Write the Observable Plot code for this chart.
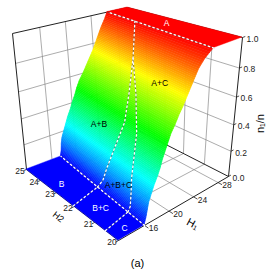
<!DOCTYPE html>
<html><head><meta charset="utf-8">
<style>html,body{margin:0;padding:0;background:#fff}svg{display:block}</style>
<script src="https://cdn.jsdelivr.net/npm/d3@7"></script>
<script src="https://cdn.jsdelivr.net/npm/@observablehq/plot@0.6"></script>
</head><body><div id="c"></div>
<script>
// ---- values ----
const nLevels   = [0,.05,.1,.15,.2,.25,.3,.35,.4,.45,.5,.55,.6,.65,.7,.75,.8,.85,.9,.95,1];
const edgeH1At20 = [16,16.3,16.5,16.7,17.1,17.5,18,18.4,18.7,19.1,19.5,19.9,20.5,21,21.6,22.1,22.6,23.1,23.6,24.4,25.6];
const edgeH1At25 = [17.5,17.7,17.8,18,18.4,18.8,19.2,19.7,20.1,20.6,21,21.5,22.2,22.8,23.4,24,24.5,25,25.5,26.1,26.6];
const H1Ticks = [16,20,24,28];
const H2Ticks = [20,21,22,23,24,25];
const nTicks  = [0,.2,.4,.6,.8,1];
const H1Range = [11.76,29.7];
const H2Range = [20,25];
// phase boundaries on the surface: [n, H2]
const boundaryAB = [[0,22.37],[.07,22.15],[.17,22.05],[.47,21.9],[.63,22.2],[.81,22.66],[1,23.37]];
const boundaryBC = [[0,20.74],[.04,20.7],[.14,20.77],[.21,20.9],[.45,21.25],[.645,21.9],[.81,22.66]];
// phase boundaries on the floor: H1 start and H2 at the start
const floorStartAB = [11.76,22.05];
const floorStartBC = [11.76,20.53];
const surfaceLabels = [["A+C",.75,21.14,"#000"],["A+B",.37,23.08,"#000"],["A+B+C",.115,21.36,"#000"]];
const flatLabels = [["A",28.3,22.5,1],["B",13.45,23.31,0],["B+C",14.1,21.4,0],["C",13.8,20.26,0]];

// ---- view of the box (screen corners) ----
const base = {p00:[118,240],p10:[228,176],p01:[26,169],p11:[134,128]};
const top_ = {p00:[117,83],p10:[242,37],p01:[12,33],p11:[127,7]};
const warpH2 = 1.38, warpN = .887;
function bil(q,s,u){return [0,1].map(i=>(1-u)*((1-s)*q.p00[i]+s*q.p10[i])+u*((1-s)*q.p01[i]+s*q.p11[i]));}
function project(H1,H2,n){
  const s=(H1-H1Range[0])/(H1Range[1]-H1Range[0]);
  const u0=(H2-H2Range[0])/(H2Range[1]-H2Range[0]);
  const u=warpH2*u0/(warpH2*u0+1-u0);
  const t=n<=0?0:n>=1?1:warpN*n/(warpN*n+1-n);
  const a=bil(base,s,u),b=bil(top_,s,u);
  return [a[0]+(b[0]-a[0])*t,a[1]+(b[1]-a[1])*t];
}
function lerp(arr,n){
  const f=Math.max(0,Math.min(nLevels.length-1.0001,n/.05)),i=Math.floor(f);
  return arr[i]+(arr[i+1]-arr[i])*(f-i);
}
function surfaceH1(n,H2){
  const u=(H2-20)/5;return lerp(edgeH1At20,n)*(1-u)+lerp(edgeH1At25,n)*u;
}
const P=(H1,H2,n)=>{const p=project(H1,H2,n);return {x:p[0],y:p[1]};};
const seg=(a,b)=>{const p=project(...a),q=project(...b);return {x1:p[0],y1:p[1],x2:q[0],y2:q[1]};};

// ---- surface bands ----
const bands=[];
const sub=5;
for(let i=0;i<nLevels.length-1;i++){
  for(let j=0;j<sub;j++){
    const a=nLevels[i]+(nLevels[i+1]-nLevels[i])*j/sub, b=nLevels[i]+(nLevels[i+1]-nLevels[i])*(j+1)/sub;
    const band=i*sub+j, mid=(a+b)/2;
    for(const v of [a,b]){
      const L=project(lerp(edgeH1At25,v),25,v),R=project(lerp(edgeH1At20,v),20,v);
      bands.push({band,n:mid,x1:L[0],y1:L[1],x2:R[0],y2:R[1]});
    }
  }
}
// flat top and flat floor
const flat=[];
{
  const tL=project(edgeH1At25[20],25,1),tR=project(edgeH1At20[20],20,1),tL2=project(H1Range[1],25,1),tR2=project(H1Range[1],20,1);
  flat.push({band:"top",n:1,x1:tL[0],y1:tL[1],x2:tR[0],y2:tR[1]},{band:"top",n:1,x1:tL2[0],y1:tL2[1],x2:tR2[0],y2:tR2[1]});
  const fL=project(H1Range[0],25,0),fR=project(H1Range[0],20,0),eL=project(edgeH1At25[0],25,0),eR=project(edgeH1At20[0],20,0);
  flat.push({band:"floor",n:0,x1:fL[0],y1:fL[1],x2:fR[0],y2:fR[1]},{band:"floor",n:0,x1:eL[0],y1:eL[1],x2:eR[0],y2:eR[1]});
}
// ---- box grid ----
const [h0,h1]=H1Range;
const gridThin=[];
for(const n of nTicks.slice(1,-1)){
  gridThin.push(seg([h0,25,n],[h1,25,n]));
  gridThin.push(seg([h1,25,n],[h1,20,n]));
}
for(const H of H1Ticks){
  gridThin.push(seg([H,25,0],[H,25,1]));
  gridThin.push(seg([H,25,0],[H,20,0]));
}
for(const H of H2Ticks.slice(1,-1)){
  gridThin.push(seg([h1,H,0],[h1,H,1]));
  gridThin.push(seg([h1,H,0],[h0,H,0]));
}
const frame=[
  seg([h0,25,0],[h0,25,1]),seg([h0,25,1],[h1,25,1]),seg([h1,25,1],[h1,20,1]),
  seg([h1,20,1],[h1,20,0]),seg([h0,20,0],[h1,20,0]),seg([h1,20,0],[h1,25,0]),seg([h0,20,0],[h0,25,0])
];
const ticks=[
  ...H1Ticks.map(H=>seg([H,20,0],[H,19.85,0])),
  ...H2Ticks.map(H=>seg([h0,H,0],[h0-.5,H,0])),
  ...nTicks.map(n=>seg([h1,20,n],[h1+.4,20,n]))
];
// ---- phase boundaries ----
const bLines=[];
boundaryAB.forEach(([n,H2])=>bLines.push({id:"ab",...P(surfaceH1(n,H2),H2,n)}));
boundaryBC.forEach(([n,H2])=>bLines.push({id:"bc",...P(surfaceH1(n,H2),H2,n)}));
bLines.push({id:"ab0",...P(...floorStartAB,0)},{id:"ab0",...P(surfaceH1(0,boundaryAB[0][1]),boundaryAB[0][1],0)});
bLines.push({id:"bc0",...P(...floorStartBC,0)},{id:"bc0",...P(surfaceH1(0,boundaryBC[0][1]),boundaryBC[0][1],0)});
for(const H2 of [20,20.5,21,21.5,22,22.5,23,23.5,24,24.5,25]){
  bLines.push({id:"n0",...P(surfaceH1(0,H2),H2,0)},{id:"n1",...P(surfaceH1(1,H2),H2,1)});
}
// ---- labels ----
const regionLabels=[
  ...surfaceLabels.map(([t,n,H2,c])=>({t,c,...P(surfaceH1(n,H2),H2,n)})),
  ...flatLabels.map(([t,H1,H2,n])=>({t,c:"#fff",...P(H1,H2,n)}))
];
const font="'Liberation Sans',Arial,sans-serif";
const tickText={x:"x",y:"y",text:"t",fontSize:8.5,fontFamily:font,fill:"#222"};
const chart=Plot.plot({
  width:274,height:275,margin:0,
  x:{domain:[0,274],range:[0,274],axis:null},
  y:{domain:[0,275],range:[0,275],axis:null},
  color:{type:"linear",domain:[0,.25,.5,.75,1],range:["#0000ff","#00ffff","#00ff00","#ffff00","#ff0000"],interpolate:"rgb"},
  marks:[
    Plot.link(gridThin,{x1:"x1",y1:"y1",x2:"x2",y2:"y2",stroke:"#888",strokeWidth:.7}),
    Plot.link(frame,{x1:"x1",y1:"y1",x2:"x2",y2:"y2",stroke:"#222",strokeWidth:1}),
    Plot.link(ticks,{x1:"x1",y1:"y1",x2:"x2",y2:"y2",stroke:"#222",strokeWidth:.8}),
    Plot.area(flat,{x1:"x1",y1:"y1",x2:"x2",y2:"y2",z:"band",fill:"n",stroke:"n",strokeWidth:.4}),
    Plot.area(bands,{x1:"x1",y1:"y1",x2:"x2",y2:"y2",z:"band",fill:"n",stroke:"n",strokeWidth:.6}),
    Plot.line(bLines,{x:"x",y:"y",z:"id",stroke:"#555",strokeWidth:.7}),
    Plot.line(bLines,{x:"x",y:"y",z:"id",stroke:"#fff",strokeWidth:1.3,strokeDasharray:"1.5,3"}),
    Plot.text(regionLabels,{x:"x",y:"y",text:"t",fill:"c",fontSize:8.5,fontFamily:font}),
    Plot.text(H1Ticks.map(H=>({t:String(H),...P(H,20,0)})),{...tickText,dx:9,dy:3}),
    Plot.text(H2Ticks.map(H=>({t:String(H),...P(h0,H,0)})),{...tickText,dx:-6.5,dy:2}),
    Plot.text(nTicks.map(n=>({t:n.toFixed(1),...P(h1,20,n)})),{...tickText,dx:10,dy:1.5}),
    Plot.text([{t:"H2",...P(h0,21.5,0)}],{x:"x",y:"y",text:"t",dx:-26,dy:3,rotate:38,fontSize:9,fontFamily:font}),
    Plot.text([{t:"H₁",...P(24,20,0)}],{x:"x",y:"y",text:"t",dx:-1,dy:27,rotate:28,fontSize:11,fontFamily:font}),
    Plot.text([{t:"n₁/n",...P(h1,20,.35)}],{x:"x",y:"y",text:"t",dx:27,dy:-8,rotate:-90,fontSize:11,fontFamily:font}),
    Plot.text([{t:"(a)",...P(h0,20,0)}],{x:"x",y:"y",text:"t",dx:19,dy:23,fontSize:11,fontFamily:font})
  ]
});
document.getElementById("c").append(chart);
</script></body></html>
